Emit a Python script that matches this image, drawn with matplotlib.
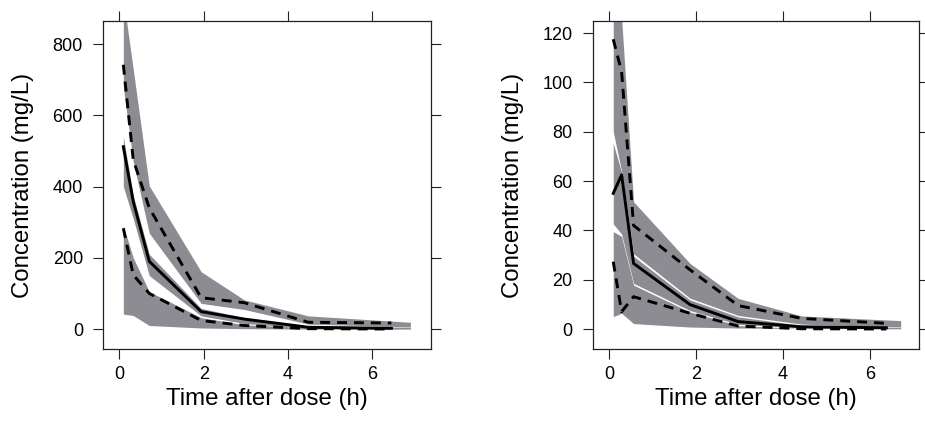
import matplotlib
matplotlib.use("Agg")
import matplotlib.pyplot as plt

# left panel (parent drug)
band_x_left = [0.095, 0.33, 0.71, 1.94, 2.96, 4.48, 6.9]
up_hi_left = [930, 729, 402, 161, 82, 37, 19]
up_lo_left = [680, 470, 269, 72, 55, 14, 6]
med_hi_left = [540, 375, 210, 58, 32, 9, 5]
med_lo_left = [400, 310, 150, 37, 16, 2, 0.5]
low_hi_left = [290, 200, 105, 32, 12, 4, 1]
low_lo_left = [42, 38, 10, 3, 1, 0, 0]

line_x_left = [0.095, 0.33, 0.71, 1.94, 2.96, 4.48, 6.45]
obs_hi_left = [742, 475, 340, 88, 74, 19, 17]
obs_med_left = [512, 358, 190, 49, 28, 5, 2]
obs_lo_left = [283, 152, 100, 24, 10, 1, 0]

# right panel
band_x_right = [0.092, 0.285, 0.56, 1.86, 2.97, 4.43, 6.71]
up_hi_right = [150, 126, 51.6, 26.6, 12.4, 5.3, 3.4]
up_lo_right = [80, 64, 30.5, 12.5, 5.5, 2.0, 0.8]
med_hi_right = [75.3, 63.5, 29.5, 11.8, 4.9, 1.5, 0.6]
med_lo_right = [42.6, 38.5, 18.5, 7.5, 1.9, 0.4, 0.1]
low_hi_right = [39.5, 37.5, 17.8, 6.9, 1.4, 0.2, 0.05]
low_lo_right = [5, 6.4, 2.2, 0.8, 0.4, 0.2, 0]

line_x_right = [0.092, 0.285, 0.56, 1.86, 2.97, 4.43, 6.38]
obs_hi_right = [117.5, 104.3, 42, 24, 9.5, 4.3, 2.3]
obs_med_right = [55, 62.5, 26.6, 9.9, 3, 0.9, 0.5]
obs_lo_right = [27.3, 7.0, 13.1, 6.4, 1.2, 0.1, 0]

x_ticks = [0, 2, 4, 6]
y_ticks_left = [0, 200, 400, 600, 800]
y_ticks_right = [0, 20, 40, 60, 80, 100, 120]

BAND = "#8d8c92"

plt.rcParams["font.family"] = ["Liberation Sans", "DejaVu Sans"]


def draw_panel(ax, band_x, bands, line_x, lines, xlim, ylim, yticks):
    for lo, hi in bands:
        ax.fill_between(band_x, lo, hi, color=BAND, linewidth=0)
    obs_hi, obs_med, obs_lo = lines
    dash = (0, (3.4, 2.4))
    ax.plot(line_x, obs_hi, color="black", lw=2.1, linestyle=dash)
    ax.plot(line_x, obs_med, color="black", lw=2.1)
    ax.plot(line_x, obs_lo, color="black", lw=2.1, linestyle=dash)

    ax.set_xlim(*xlim)
    ax.set_ylim(*ylim)
    ax.set_xticks(x_ticks)
    ax.set_yticks(yticks)
    ax.tick_params(direction="out", length=7.5, width=0.8, labelsize=13,
                   top=True, right=True, color="#222222")
    ax.tick_params(axis="y", pad=7)
    ax.tick_params(axis="x", pad=5)
    for sp in ax.spines.values():
        sp.set_linewidth(0.9)
        sp.set_color("#222222")
    ax.set_xlabel("Time after dose (h)", fontsize=17.3, labelpad=3)
    ax.set_ylabel("Concentration (mg/L)", fontsize=17.3, labelpad=13)


fig = plt.figure(figsize=(9.25, 4.3), dpi=100)
ax1 = fig.add_axes([0.1114, 0.1884, 0.3546, 0.7628])
ax2 = fig.add_axes([0.6408, 0.1884, 0.3531, 0.7628])

draw_panel(
    ax1, band_x_left,
    [(up_lo_left, up_hi_left), (med_lo_left, med_hi_left), (low_lo_left, low_hi_left)],
    line_x_left, (obs_hi_left, obs_med_left, obs_lo_left),
    (-0.386, 7.39), (-56, 865), y_ticks_left,
)
draw_panel(
    ax2, band_x_right,
    [(up_lo_right, up_hi_right), (med_lo_right, med_hi_right), (low_lo_right, low_hi_right)],
    line_x_right, (obs_hi_right, obs_med_right, obs_lo_right),
    (-0.38, 7.14), (-8.1, 124.9), y_ticks_right,
)

fig.savefig("out.png", dpi=100)
